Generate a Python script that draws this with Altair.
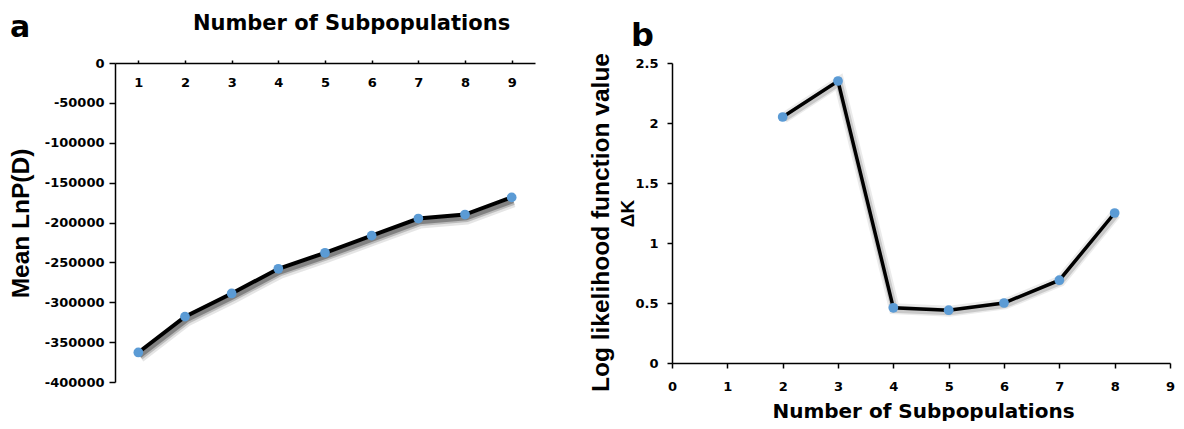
import altair as alt
import pandas as pd

# ---- data ----
k_a = [1, 2, 3, 4, 5, 6, 7, 8, 9]
mean_lnp = [-363000, -318000, -289000, -258000, -238000, -216500, -195000, -190000, -168500]

k_b = [2, 3, 4, 5, 6, 7, 8]
delta_k = [2.05, 2.35, 0.46, 0.44, 0.50, 0.69, 1.25]

x_ticks_a = [1, 2, 3, 4, 5, 6, 7, 8, 9]
y_ticks_a = [0, -50000, -100000, -150000, -200000, -250000, -300000, -350000, -400000]
x_ticks_b = [0, 1, 2, 3, 4, 5, 6, 7, 8, 9]
y_ticks_b = [0, 0.5, 1, 1.5, 2, 2.5]

BLUE = "#5B9BD5"
NUM = "DejaVu Sans"
TXT = "Liberation Sans"

df_a = pd.DataFrame({"k": k_a, "lnp": mean_lnp})
df_b = pd.DataFrame({"k": k_b, "dk": delta_k})

no_frame = alt.ViewBackground(stroke="transparent", strokeWidth=0, strokeOpacity=0)

# ---------------- panel a ----------------
xa = alt.X(
    "k:Q",
    scale=alt.Scale(domain=[0.5, 9.5], nice=False, zero=False),
    axis=alt.Axis(
        orient="top", values=x_ticks_a, format="d", grid=False,
        title="Number of Subpopulations", titleFont=NUM, titleFontSize=21,
        titleFontWeight="bold", titleColor="black", titleX=236, titleY=-34,
        titleBaseline="alphabetic", titleAlign="center",
        labelFont=NUM, labelFontSize=13, labelFontWeight="bold", labelColor="black",
        labelBaseline="alphabetic", labelPadding=-26, labelFlush=False,
        tickSize=3, tickColor="black", tickWidth=1.5,
        domainColor="black", domainWidth=1.5,
    ),
)
ya = alt.Y(
    "lnp:Q",
    scale=alt.Scale(domain=[-400000, 0], nice=False, zero=False),
    axis=alt.Axis(
        values=y_ticks_a, grid=False,
        labelExpr="datum.value == 0 ? '0' : '-' + format(abs(datum.value), 'd')",
        title="Mean LnP(D)", titleFont=TXT, titleFontSize=24.5, titleFontWeight="bold",
        titleColor="black", titleX=-94, titleY=160, titleBaseline="middle",
        titleAlign="center", titleAngle=270,
        labelFont=NUM, labelFontSize=13, labelFontWeight="bold", labelColor="black",
        labelPadding=5, tickSize=6, tickColor="black", tickWidth=1.5,
        domainColor="black", domainWidth=1.5, labelFlush=False,
    ),
)
base_a = alt.Chart(df_a).encode(x=xa, y=ya)
shadow_a = [
    base_a.mark_line(color="black", opacity=0.10, strokeWidth=10, xOffset=2, yOffset=5),
    base_a.mark_line(color="black", opacity=0.18, strokeWidth=7, xOffset=2, yOffset=4),
    base_a.mark_line(color="black", opacity=0.30, strokeWidth=4.5, xOffset=1.5, yOffset=3.5),
]
line_a = base_a.mark_line(color="black", strokeWidth=4)
pts_a = base_a.mark_circle(color=BLUE, size=95, opacity=1)

panel_a = alt.layer(*shadow_a, line_a, pts_a).properties(
    width=420, height=319, view=no_frame,
    title=alt.TitleParams(
        "a", orient="none", anchor="start", frame="group", font=NUM, fontSize=30,
        fontWeight="bold", color="black", baseline="alphabetic", align="left",
        dx=-105, dy=-26,
    ),
)

# ---------------- panel b ----------------
xb = alt.X(
    "k:Q",
    scale=alt.Scale(domain=[0, 9], nice=False, zero=False),
    axis=alt.Axis(
        values=x_ticks_b, format="d", grid=False,
        title="Number of Subpopulations", titleFont=NUM, titleFontSize=20,
        titleFontWeight="bold", titleColor="black", titleX=251, titleY=54,
        titleBaseline="alphabetic", titleAlign="center",
        labelFont=NUM, labelFontSize=13, labelFontWeight="bold", labelColor="black",
        labelPadding=12, labelFlush=False, tickSize=5, tickColor="black", tickWidth=1.5,
        domainColor="black", domainWidth=1.5,
    ),
)
yb = alt.Y(
    "dk:Q",
    scale=alt.Scale(domain=[0, 2.5], nice=False, zero=False),
    axis=alt.Axis(
        orient="left", values=y_ticks_b, format="~g", grid=False,
        title="Log likelihood function value", titleFont=TXT, titleFontSize=24.5,
        titleFontWeight="bold", titleColor="black", titleX=-70.5, titleY=159,
        titleBaseline="middle", titleAlign="center", titleAngle=270,
        labelFont=NUM, labelFontSize=13, labelFontWeight="bold", labelColor="black",
        labelPadding=9, labelFlush=False, tickSize=5, tickColor="black", tickWidth=1.5,
        domainColor="black", domainWidth=1.5,
    ),
)
yb2 = alt.Y(
    "dk:Q",
    scale=alt.Scale(domain=[0, 2.5], nice=False, zero=False),
    axis=alt.Axis(
        orient="left", labels=False, ticks=False, domain=False, grid=False,
        title="ΔK", titleFont=TXT, titleFontSize=19, titleFontWeight="bold",
        titleColor="black", titleX=-45, titleY=150, titleBaseline="middle",
        titleAlign="center", titleAngle=270,
    ),
)
base_b = alt.Chart(df_b).encode(x=xb, y=yb)
shadow_b = [
    base_b.mark_line(color="black", opacity=0.08, strokeWidth=11, xOffset=1, yOffset=1),
    base_b.mark_line(color="black", opacity=0.14, strokeWidth=7, xOffset=1, yOffset=1.5),
]
line_b = base_b.mark_line(color="black", strokeWidth=3.5)
inner_b = alt.layer(*shadow_b, line_b)
pts_b = alt.Chart(df_b).mark_circle(color=BLUE, size=95, opacity=1).encode(x=xb, y=yb2)

panel_b = (
    alt.layer(inner_b, pts_b)
    .resolve_axis(y="independent")
    .properties(
        width=498, height=300, view=no_frame,
        title=alt.TitleParams(
            "b", orient="none", anchor="start", frame="group", font=NUM, fontSize=32,
            fontWeight="bold", color="black", baseline="alphabetic", align="left",
            dx=-41, dy=-17,
        ),
    )
)

chart = (
    alt.hconcat(panel_a, panel_b, spacing=53)
    .properties(padding={"left": 0, "top": 4, "right": 0, "bottom": 0})
    .configure_view(strokeWidth=0, stroke="transparent", strokeOpacity=0)
    .configure(background="white")
)

chart.save("out.html", embed_options={"renderer": "svg", "actions": False})
